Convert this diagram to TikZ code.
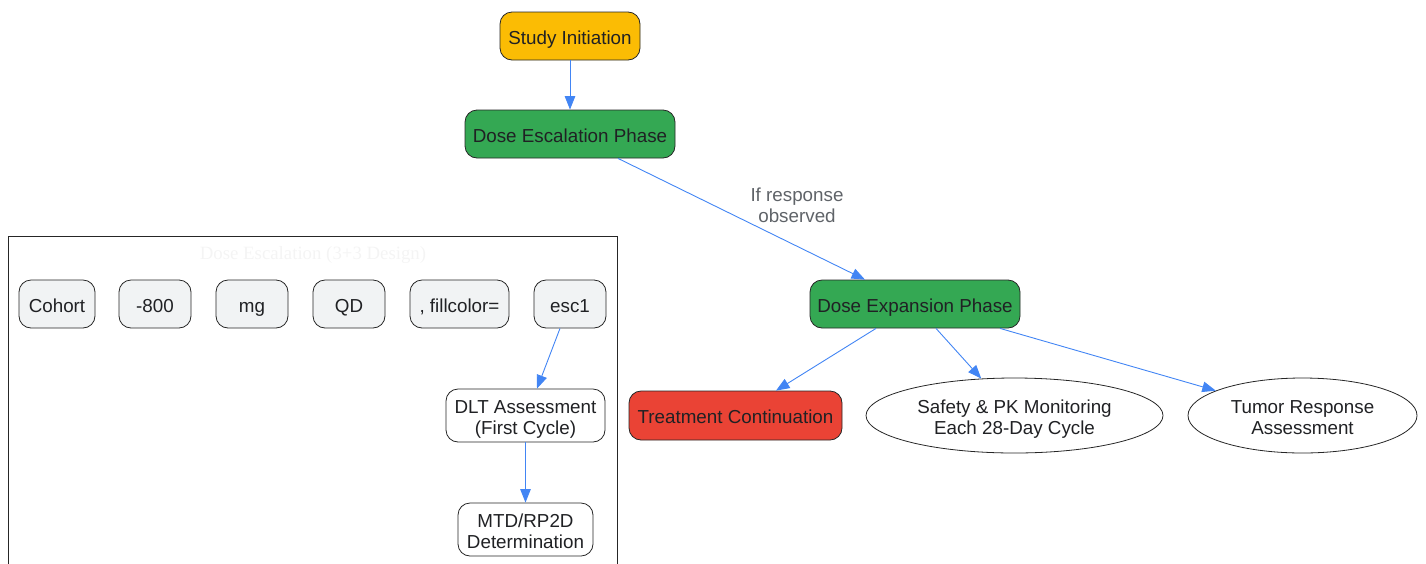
\documentclass[tikz,border=0pt]{standalone}
\usepackage{fontspec}
\setmainfont{Liberation Sans}
\newfontfamily\serifttl{Liberation Serif}
\usetikzlibrary{shapes.geometric,arrows.meta}
\definecolor{cyellow}{HTML}{FBBC04}
\definecolor{cgreen}{HTML}{34A853}
\definecolor{cred}{HTML}{EA4335}
\definecolor{cgray}{HTML}{F1F3F4}
\definecolor{cedge}{HTML}{4285F4}
\definecolor{ctext}{HTML}{202124}
\definecolor{clabel}{HTML}{5F6368}
\definecolor{ctitle}{HTML}{F4F4F4}
\newcommand\twoln[2]{\rule{0pt}{21pt}#1\\#2\rule[-5pt]{0pt}{0pt}}
\tikzset{
  txt/.style={font=\fontsize{18.8}{21}\selectfont, text height=16.4pt, text depth=0pt},
  twolines/.style={text height={}, text depth={}},
  box/.style={txt, draw=black!85, line width=0.8pt, rounded corners=12pt, align=center,
     text=ctext, inner sep=0pt},
  ell/.style={txt, draw=black!85, line width=0.8pt, ellipse, align=center, inner sep=0pt,
     text=ctext},
  edge/.style={draw=cedge, line width=0.9pt, -{Triangle[length=13.5pt,width=10.5pt]}},
}
\begin{document}
\begin{tikzpicture}[x=1pt,y=-1pt]
\useasboundingbox (0,0) rectangle (1426,563);
% cluster
\draw[black!85, line width=0.8pt] (8,590) -- (8,236) -- (617,236) -- (617,590);
\node[font=\serifttl\fontsize{18.8}{21}\selectfont, text=ctitle, text height=13pt, text depth=0pt, inner sep=0pt] (ttl) at (313,253) {Dose Escalation (3+3 Design)};
% main nodes
\node[box, fill=cyellow, minimum width=140pt, minimum height=48pt] (start) at (570,36) {Study Initiation};
\node[box, fill=cgreen, minimum width=210pt, minimum height=48pt] (esc) at (570,134) {Dose Escalation Phase};
\node[box, fill=cgreen, minimum width=210pt, minimum height=48pt] (exp) at (915,304) {Dose Expansion Phase};
\node[box, fill=cred, minimum width=213pt, minimum height=49pt] (treat) at (735.5,415.5) {Treatment Continuation};
\node[ell, twolines, minimum width=297pt, minimum height=75pt] (safety) at (1014.5,415.5) {\twoln{Safety \& PK Monitoring}{Each 28-Day Cycle}};
\node[ell, twolines, minimum width=229pt, minimum height=75pt] (tumor) at (1302.5,415.5) {\twoln{Tumor Response}{Assessment}};
% cluster nodes
\node[box, fill=cgray, minimum width=76pt, minimum height=48pt] (c1) at (57,304) {Cohort};
\node[box, fill=cgray, minimum width=72pt, minimum height=48pt] (c2) at (155,304) {-800};
\node[box, fill=cgray, minimum width=72pt, minimum height=48pt] (c3) at (252,304) {mg};
\node[box, fill=cgray, minimum width=72pt, minimum height=48pt] (c4) at (349,304) {QD};
\node[box, fill=cgray, minimum width=99pt, minimum height=48pt] (c5) at (459.5,304) {, fillcolor=};
\node[box, fill=cgray, minimum width=72pt, minimum height=48pt] (c6) at (570,304) {esc1};
\node[box, twolines, fill=white, minimum width=159pt, minimum height=53pt] (dlt) at (525.5,415.5) {\twoln{DLT Assessment}{(First Cycle)}};
\node[box, twolines, fill=white, minimum width=135pt, minimum height=53pt] (mtd) at (525.5,529.5) {\twoln{MTD/RP2D}{Determination}};
% edges
\draw[edge] (start) -- (esc);
\draw[edge] ([xshift=48pt]esc.south) -- ([xshift=-50pt]exp.north);
\node[txt, twolines, text=clabel, align=center, inner sep=0pt] (lab) at (797,204) {\twoln{If response}{observed}};
\draw[edge] ([xshift=-39pt]exp.south) -- ([xshift=40.5pt]treat.north);
\draw[edge] ([xshift=21pt]exp.south) -- (safety.132.6);
\draw[edge] ([xshift=85pt]exp.south) -- (tumor.164.2);
\draw[edge] ([xshift=-10pt]c6.south) -- ([xshift=11.5pt]dlt.north);
\draw[edge] (dlt) -- (mtd);
\end{tikzpicture}
\end{document}
